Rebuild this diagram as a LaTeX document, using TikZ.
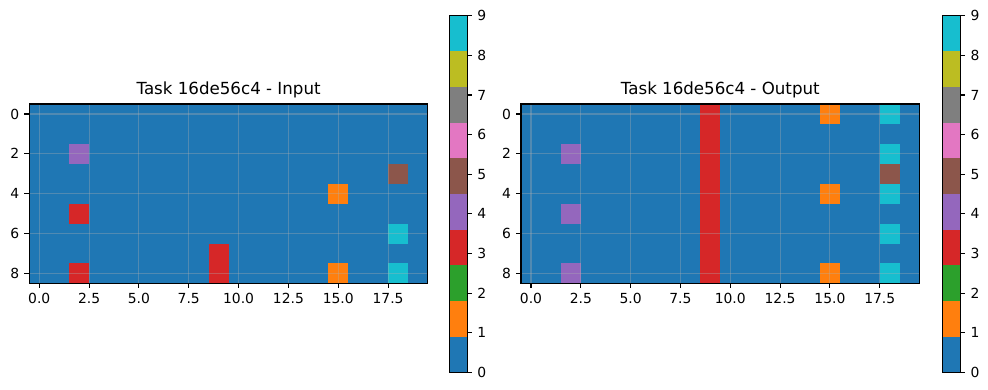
\documentclass[tikz,border=0pt]{standalone}
\usepackage{fontspec}
\setmainfont{DejaVu Sans}
\usepackage{xcolor}
\usepackage{tikz}
\usetikzlibrary{positioning}
\definecolor{tabblue}{HTML}{1F77B4}
\definecolor{taborange}{HTML}{FF7F0E}
\definecolor{tabgreen}{HTML}{2CA02C}
\definecolor{tabred}{HTML}{D62728}
\definecolor{tabpurple}{HTML}{9467BD}
\definecolor{tabbrown}{HTML}{8C564B}
\definecolor{tabpink}{HTML}{E377C2}
\definecolor{tabgray}{HTML}{7F7F7F}
\definecolor{tabolive}{HTML}{BCBD22}
\definecolor{tabcyan}{HTML}{17BECF}
\definecolor{gridgray}{HTML}{B0B0B0}
\newcommand{\ticksize}{\fontsize{10}{12}\selectfont}
\newcommand{\titlesize}{\fontsize{12}{14}\selectfont}

% one heatmap panel: #1 prefix, #2 left edge, #3 title, #4 cells row/col/colour
\newcommand{\taskgrid}[4]{%
\begin{scope}[shift={(#2,104)}, x=14.35pt, y=-14.35pt]
  \fill[tabblue] (0,0) rectangle (20,9);
  \foreach \r/\c/\col in {#4}
    \fill[\col] (\c,\r) rectangle ++(1,1);
  \foreach \v/\lbl [count=\i] in {0/0.0, 2.5/2.5, 5/5.0, 7.5/7.5, 10/10.0, 12.5/12.5, 15/15.0, 17.5/17.5} {
    \draw[gridline] (\v+0.5,0) -- (\v+0.5,9);
    \draw[tickmark] (\v+0.5,9) -- ++(0pt,-3.5pt);
    \path (\v+0.5,9) ++(0pt,-7pt) node[ticklabel, anchor=north] (#1x\i) {\lbl};
  }
  \foreach \v [count=\i] in {0,2,4,6,8} {
    \draw[gridline] (0,\v+0.5) -- (20,\v+0.5);
    \draw[tickmark] (0,\v+0.5) -- ++(-3.5pt,0pt);
    \path (0,\v+0.5) ++(-7pt,0pt) node[ticklabel, anchor=east] (#1y\i) {\v};
  }
  \draw[axframe] (0,0) rectangle (20,9);
  \path (10,0) ++(0pt,7.2pt) node[anchor=base, font=\titlesize, inner sep=0pt] (#1title) {#3};
\end{scope}}

% colour bar: #1 prefix, #2 left edge
\newcommand{\taskcbar}[2]{%
  \foreach \col [count=\i from 0] in {tabblue,taborange,tabgreen,tabred,tabpurple,tabbrown,tabpink,tabgray,tabolive,tabcyan}
    \fill[\col] (#2,372.3-\i*35.66) rectangle ++(18,-35.66);
  \draw[axframe] (#2,15.7) rectangle (#2+18,372.3);
  \foreach \t in {0,...,9} {
    \draw[tickmark] (#2+18,372.3-\t*39.62) -- ++(3.5pt,0pt);
    \path (#2+18,372.3-\t*39.62) ++(7pt,0pt) node[ticklabel, anchor=west] (#1c\t) {\t};
  }}

\begin{document}
\begin{tikzpicture}[x=0.72pt, y=-0.72pt,
    gridline/.style={draw=gridgray, draw opacity=0.35, line width=0.8pt},
    tickmark/.style={draw=black, line width=0.8pt},
    axframe/.style={draw=black, line width=0.8pt},
    ticklabel/.style={font=\ticksize, inner sep=0pt}
]
\useasboundingbox (0,0) rectangle (988,390);

\taskgrid{in}{29.3}{Task 16de56c4 - Input}{2/2/tabpurple, 3/18/tabbrown, 4/15/taborange, 5/2/tabred, 6/18/tabcyan, 7/9/tabred, 8/9/tabred, 8/2/tabred, 8/15/taborange, 8/18/tabcyan}
\taskcbar{incb}{449.3}

\taskgrid{out}{521}{Task 16de56c4 - Output}{0/9/tabred, 1/9/tabred, 2/9/tabred, 3/9/tabred, 4/9/tabred, 5/9/tabred, 6/9/tabred, 7/9/tabred, 8/9/tabred, 0/15/taborange, 4/15/taborange, 8/15/taborange, 0/18/tabcyan, 2/18/tabcyan, 3/18/tabbrown, 4/18/tabcyan, 6/18/tabcyan, 8/18/tabcyan, 2/2/tabpurple, 5/2/tabpurple, 8/2/tabpurple}
\taskcbar{outcb}{942.5}
\end{tikzpicture}
\end{document}
